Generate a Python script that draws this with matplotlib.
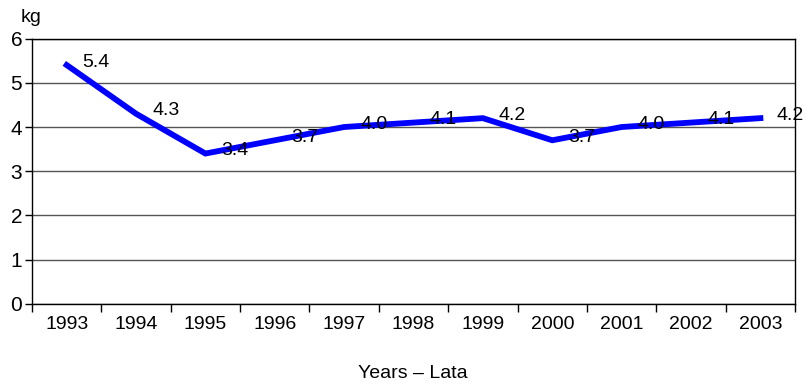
import matplotlib

matplotlib.use("Agg")
import matplotlib.pyplot as plt
import numpy as np

plt.rcParams["font.family"] = ["Liberation Sans", "DejaVu Sans"]

years = ["1993", "1994", "1995", "1996", "1997", "1998", "1999", "2000", "2001", "2002", "2003"]
values = [5.4, 4.3, 3.4, 3.7, 4.0, 4.1, 4.2, 3.7, 4.0, 4.1, 4.2]
y_ticks = [0, 1, 2, 3, 4, 5, 6]

fig = plt.figure(figsize=(8.08, 3.87), dpi=100)
ax = fig.add_axes([0.0396, 0.2145, 0.9444, 0.686])

x = np.arange(len(years))
ax.plot(x, values, color="#0000ff", lw=4.2, solid_joinstyle="miter", zorder=3)
for xi, v in zip(x, values):
    ax.annotate(f"{v:.1f}", (xi, v), xytext=(16, 3), textcoords="offset pixels",
                ha="left", va="center", fontsize=14, zorder=4)

ax.set_xlim(-0.5, len(years) - 0.5)
ax.set_ylim(0, 6)
ax.set_yticks(y_ticks)
ax.set_xticks(x)
ax.set_xticklabels(years, fontsize=14)
ax.set_xticks(np.arange(len(years) + 1) - 0.5, minor=True)
ax.tick_params(axis="x", which="major", length=0, pad=9)
ax.tick_params(axis="x", which="minor", length=6, width=1, direction="out")
ax.tick_params(axis="y", length=5, width=1, direction="out", labelsize=15, pad=2)
ax.grid(True, axis="y", color="#555555", lw=1)
ax.set_axisbelow(True)
for s in ax.spines.values():
    s.set_color("black")
    s.set_linewidth(1)

fig.text(0.025, 0.955, "kg", fontsize=14, ha="left", va="center")
fig.text(0.511, 0.036, "Years – Lata", fontsize=14, ha="center", va="center")

fig.savefig("out.png", dpi=100)
